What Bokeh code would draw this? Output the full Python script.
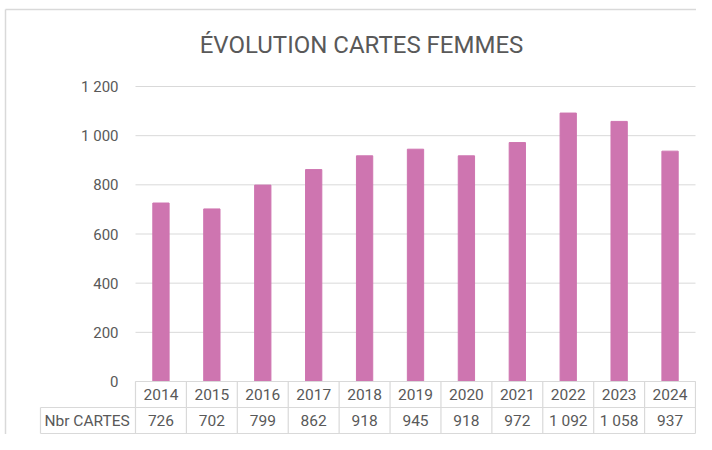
from bokeh.plotting import figure
from bokeh.models import Range1d, ColumnDataSource
from bokeh.core.properties import value
from bokeh.embed import file_html
from bokeh.resources import INLINE

# ---- data ----
years = ["2014", "2015", "2016", "2017", "2018", "2019", "2020", "2021", "2022", "2023", "2024"]
cartes = [726, 702, 799, 862, 918, 945, 918, 972, 1092, 1058, 937]
y_ticks = [0, 200, 400, 600, 800, 1000, 1200]
title_text = "ÉVOLUTION CARTES FEMMES"
row_label = "Nbr CARTES"


def fr(n):
    return f"{n:,}".replace(",", " ")


# ---- layout (pixel geometry of the figure) ----
W, H = 696, 434
px_x0 = 135.0          # fig px for start of first column
col_w = 560.0 / 11     # px per column
px_y0 = 381.0          # fig px (from top) of value 0
px_per_val = 295.0 / 1200.0
row_h_px = 26.0
label_px = 40.0        # left edge of the table's label cell


def dx(px):  # pixel x -> data x
    return (px - px_x0) / col_w


def dy(px):  # pixel y (from top) -> data y
    return (px_y0 - px) / px_per_val


n = len(years)
row_h = row_h_px / px_per_val
FONT = "Roboto"
TXT = "#595959"
GRID = "#d9d9d9"
BAR = "#CE75B0"

p = figure(width=W, height=H, output_backend="svg", toolbar_location=None,
           x_range=Range1d(dx(0), dx(W)), y_range=Range1d(dy(H), dy(0)),
           min_border=0, min_border_left=0, min_border_right=0,
           min_border_top=0, min_border_bottom=0)
p.axis.visible = False
p.grid.visible = False
p.outline_line_color = None
p.background_fill_color = "white"
p.border_fill_color = "white"

# chart border (left & top)
p.segment(x0=[dx(5)], x1=[dx(5)], y0=[dy(9)], y1=[dy(H)], line_color=GRID, line_width=1.5)
p.segment(x0=[dx(5)], x1=[dx(W)], y0=[dy(9)], y1=[dy(9)], line_color=GRID, line_width=1.5)

# gridlines
p.segment(x0=[0] * len(y_ticks), x1=[n] * len(y_ticks), y0=y_ticks, y1=y_ticks,
          line_color=GRID, line_width=1)

# bars
src = ColumnDataSource(dict(x=[i + 0.5 for i in range(n)], top=cartes,
                            year=years, lab=[fr(v) for v in cartes]))
p.vbar(x="x", top="top", width=0.32, bottom=0, source=src,
       fill_color=BAR, line_color=BAR)

# y tick labels
p.text(x=[dx(118)] * len(y_ticks), y=y_ticks, text=[fr(t) for t in y_ticks],
       text_align="right", text_baseline="middle", text_font=value(FONT),
       text_font_size="15px", text_color=TXT)

# data table
t0 = 0
t1 = -row_h
t2 = -2 * row_h
p.segment(x0=[0, dx(label_px), dx(label_px)], x1=[n, n, n], y0=[t0, t1, t2], y1=[t0, t1, t2],
          line_color=GRID, line_width=1.2)
p.segment(x0=list(range(n + 1)), x1=list(range(n + 1)), y0=[t0] * (n + 1), y1=[t2] * (n + 1),
          line_color=GRID, line_width=1.2)
p.segment(x0=[dx(label_px)], x1=[dx(label_px)], y0=[t1], y1=[t2], line_color=GRID, line_width=1.2)

p.text(x="x", y=t0 - row_h / 2, text="year", source=src, text_align="center",
       text_baseline="middle", text_font=value(FONT), text_font_size="15.5px", text_color=TXT)
p.text(x="x", y=t1 - row_h / 2, text="lab", source=src, text_align="center",
       text_baseline="middle", text_font=value(FONT), text_font_size="15.5px", text_color=TXT)
p.text(x=[dx(label_px + 4)], y=[t1 - row_h / 2], text=[row_label], text_align="left",
       text_baseline="middle", text_font=value(FONT), text_font_size="15.5px", text_color=TXT)

# title
p.text(x=[dx(361)], y=[dy(44)], text=[title_text], text_align="center", text_baseline="middle",
       text_font=value(FONT), text_font_size="24px", text_color=TXT)

open("out.html", "w").write(file_html(p, INLINE))
